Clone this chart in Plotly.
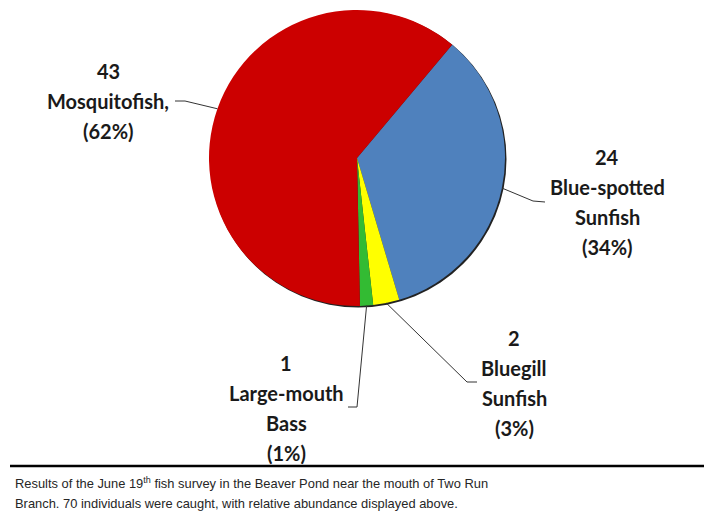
import math
import plotly.graph_objects as go

# ---- data ----
species = ["Blue-spotted Sunfish", "Bluegill Sunfish", "Large-mouth Bass", "Mosquitofish"]
counts = [24, 2, 1, 43]
percent_labels = ["(34%)", "(3%)", "(1%)", "(62%)"]
name_lines = [["Blue-spotted", "Sunfish"], ["Bluegill", "Sunfish"], ["Large-mouth", "Bass"], ["Mosquitofish,"]]
colors = ["#4F81BD", "#FFFF00", "#33BB33", "#CC0000"]
caption = ["Results of the June 19<sup>th</sup> fish survey in the Beaver Pond near the mouth of Two Run",
           "Branch. 70 individuals were caught, with relative abundance displayed above."]

# ---- layout geometry (page pixels) ----
PAGE_W, PAGE_H = 712, 527
OFF = 8                     # default page margin of the html body
W, H = PAGE_W - OFF, PAGE_H - OFF
CX, CY, R = 357, 158, 148
ROTATION = 40
label_pos = [(607, 157), (514, 338), (286, 363), (108, 71)]          # first-line centre
elbows = [((533, 201), (545, 202)), ((467, 382), (477, 382)),
          ((357, 407), (348, 407)), ((185, 101), (175, 101))]
LINE_GAP = 30

def px(x):
    return (x - OFF) / W

def py(y):
    return 1 - (y - OFF) / H

fig = go.Figure(go.Pie(
    labels=species, values=counts, sort=False, direction="clockwise",
    rotation=ROTATION, textinfo="none", hoverinfo="label+value+percent",
    marker=dict(colors=colors, line=dict(width=0)),
    domain=dict(x=[px(CX - R), px(CX + R)], y=[py(CY + R), py(CY - R)]),
    showlegend=False,
))

shapes = []
annotations = []
# shadow behind the pie
shapes.append(dict(type="circle", xref="paper", yref="paper", layer="below",
                   x0=px(CX - R + 1), x1=px(CX + R + 1.5), y0=py(CY + R + 1.5), y1=py(CY - R + 1),
                   fillcolor="#222222", line=dict(width=0)))

total = sum(counts)
start = ROTATION
for i, c in enumerate(counts):
    span = c / total * 360
    mid = math.radians(start + span / 2)
    start += span
    ex, ey = CX + R * math.sin(mid), CY - R * math.cos(mid)
    (bx, by), (tx, ty) = elbows[i]
    shapes.append(dict(type="path", xref="paper", yref="paper",
                       path=f"M {px(ex)},{py(ey)} L {px(bx)},{py(by)} L {px(tx)},{py(ty)}",
                       line=dict(color="#333333", width=1)))
    lines = [str(c)] + name_lines[i] + [percent_labels[i]]
    lx, ly = label_pos[i]
    for k, t in enumerate(lines):
        annotations.append(dict(x=px(lx), y=py(ly + k * LINE_GAP), xref="paper", yref="paper",
                                text=f"<b>{t}</b>", showarrow=False, xanchor="center", yanchor="middle",
                                font=dict(family="Lato", size=20, color="#1a1a1a")))

# rule and caption
shapes.append(dict(type="line", xref="paper", yref="paper", x0=px(10), x1=1.0, y0=py(466), y1=py(466),
                   line=dict(color="black", width=2.5)))
for k, t in enumerate(caption):
    annotations.append(dict(x=px(13), y=py(483 + k * 20), xref="paper", yref="paper", text=t,
                            showarrow=False, xanchor="left", yanchor="middle",
                            font=dict(family="Liberation Sans", size=12.9, color="#262626")))

fig.update_layout(width=W, height=H, margin=dict(l=0, r=0, t=0, b=0),
                  paper_bgcolor="white", plot_bgcolor="white",
                  shapes=shapes, annotations=annotations)
fig.write_html("out.html")
